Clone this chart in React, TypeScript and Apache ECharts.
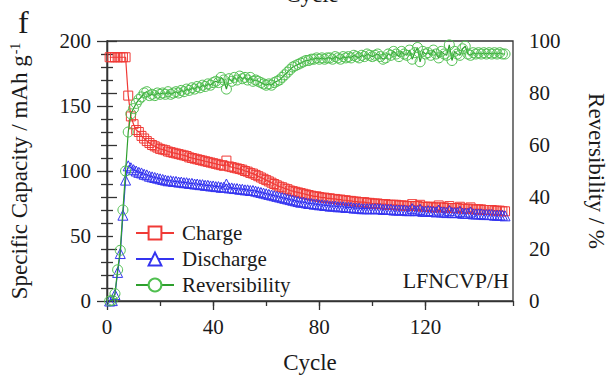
import { useEffect, useRef } from "react";
import * as echarts from "echarts";

// Specific capacity per cycle (mAh g-1), cycles 1..150
const chargeCapacity = [
  187.5, 187.5, 187.5, 187.5, 187.5, 187.5, 187.5, 158, 142, 136,
  131.5, 130, 127, 125, 123, 121.5, 120, 119, 118, 117,
  116.5, 116, 115, 114.5, 114, 113.5, 113, 112.5, 112, 111.5,
  110.5, 110, 109.5, 109, 108.5, 108, 107.5, 107, 106.5, 106,
  105.5, 105, 104.5, 104, 108, 103.5, 103, 102.5, 102, 101.5,
  101, 100, 99.5, 98.5, 98, 97, 96, 95, 94, 93,
  92, 91, 90, 89, 88, 87.5, 86.5, 86, 85, 84.5,
  84, 83.5, 83, 82.5, 82, 81.5, 81, 80.5, 80.5, 80,
  79.5, 79.5, 79, 79, 78.5, 78.5, 78, 78, 77.5, 77.5,
  77, 77, 76.5, 76.5, 76, 76, 76, 75.5, 75.5, 75,
  75, 75, 74.5, 74.5, 74.5, 74, 74, 74, 74, 73.5,
  73.5, 73.5, 73, 73, 74.5, 73, 73, 74, 72.5, 72.5,
  72.5, 72.5, 72, 72, 73.5, 72, 72, 71.5, 73, 71.5,
  71.5, 71.5, 72.5, 71, 71, 71, 72, 70.5, 70.5, 70.5,
  70.5, 70, 70, 70, 70, 69.5, 69.5, 69.5, 69, 69,
];

const dischargeCapacity = [
  0, 0.3, 5, 22, 36.5, 66, 93, 104, 102.5, 101,
  100, 99, 98.5, 97.5, 97, 96, 95.5, 95, 94.5, 94,
  93.5, 93, 92.5, 92.5, 92, 92, 91.5, 91.5, 91, 91,
  90.5, 90.5, 90, 90, 89.5, 89.5, 89, 89, 88.5, 88.5,
  88, 88, 87.5, 87.5, 90, 87, 87, 86.5, 86.5, 86,
  86, 85.5, 85.5, 85, 85, 84.5, 84, 83.5, 83, 82.5,
  82, 81.5, 81, 80.5, 80, 79.5, 79, 78.5, 78, 77.5,
  77, 76.5, 76, 76, 75.5, 75, 75, 74.5, 74.5, 74,
  74, 73.5, 73.5, 73, 73, 73, 72.5, 72.5, 72.5, 72,
  72, 72, 71.5, 71.5, 71.5, 71, 71, 71, 71, 71,
  71, 71, 71, 70.5, 70.5, 70.5, 70.5, 70, 70, 70,
  70, 70, 69.5, 69.5, 71, 69.5, 69.5, 70.5, 69, 69,
  69.5, 69, 69, 68.5, 70, 68.5, 68.5, 68, 69.5, 68,
  68, 68, 69, 67.5, 67.5, 67.5, 68.5, 67, 67, 67,
  67, 66.5, 66.5, 66.5, 66.5, 66, 66, 66, 66, 65.5,
];

// Coulombic reversibility per cycle (%)
const reversibility = [
  0, 0.3, 2.8, 12, 19.5, 35, 50, 65, 72, 74,
  76, 77.5, 78.5, 80, 80.5, 79, 79.5, 79, 80, 79.5,
  80, 79.5, 80.5, 79.5, 80, 80.5, 80, 81, 80.5, 81.5,
  81, 82, 81.5, 82.5, 82, 83, 82.5, 83.5, 83, 84,
  84.5, 84, 86, 85, 81.5, 85.5, 84.5, 86, 85, 86.5,
  85.5, 86, 85, 86, 84.5, 85, 84.5, 84, 83.5, 83,
  83.5, 83, 84, 84.5, 85, 86, 87, 88, 89, 90,
  90.5, 91, 91.5, 92, 92.5, 92.5, 93, 93, 93.5, 93,
  93.5, 93, 93.5, 93.5, 93, 94, 93.5, 93, 94, 93.5,
  94, 93.5, 94.5, 94, 93.5, 94.5, 94, 95, 94.5, 94,
  94.5, 95, 94, 93, 93.5, 95, 94.5, 96, 95, 94,
  96, 95, 94.5, 96.5, 93, 95.5, 97.5, 92, 96, 95,
  95.5, 94.5, 96.5, 95, 93.5, 96, 95, 94.5, 98.5, 92.5,
  96, 95, 94.5, 97, 98, 95, 94.5, 95.5, 95, 95.5,
  95, 95.5, 95, 95.5, 95, 95.5, 95, 95.5, 95, 95,
];

const cycleNumbers = chargeCapacity.map((_, i) => i + 1);

const seriesNames = ["Charge", "Discharge", "Reversibility"];
const capacityTicks = { min: 0, max: 200, interval: 50 };
const reversibilityTicks = { min: 0, max: 100, interval: 20 };
const cycleTicks = { min: 0, max: 153, interval: 40, minorInterval: 20 };

const FONT = "'Liberation Serif', 'Times New Roman', serif";
const INK = "#1a1a1a";
const AXIS = "#333";
const RED = "#f03a36";
const BLUE = "#3434f0";
const GREEN = "#2d9f2d";
const GREEN_MARK = "#4fbf4f";

export default function App() {
  const ref = useRef<HTMLDivElement>(null);

  useEffect(() => {
    const chart = echarts.init(ref.current!, null, { renderer: "svg" });
    const toPairs = (vals: number[]) => vals.map((v, i) => [cycleNumbers[i], v]);

    const axisLine = { show: true, lineStyle: { color: AXIS, width: 1.3 } };
    const tickLine = { color: AXIS, width: 1.3 };
    const labelStyle = { fontSize: 21, color: INK, fontFamily: FONT };

    chart.setOption({
      animation: false,
      backgroundColor: "#fff",
      grid: {
        left: 105,
        right: 96,
        top: 41,
        bottom: 79,
        show: true,
        borderColor: AXIS,
        borderWidth: 1.3,
        backgroundColor: "transparent",
      },
      graphic: [
        {
          type: "text",
          left: 18,
          top: 6,
          style: { text: "f", fontSize: 32, fontFamily: FONT, fill: INK },
        },
        {
          type: "text",
          x: 312,
          y: 6,
          style: {
            text: "Cycle",
            fontSize: 23,
            fontFamily: FONT,
            fill: INK,
            align: "center",
            verticalAlign: "bottom",
          },
        },
        {
          type: "text",
          x: 509,
          y: 291,
          style: {
            text: "LFNCVP/H",
            fontSize: 22,
            fontFamily: FONT,
            fill: INK,
            align: "right",
            verticalAlign: "bottom",
          },
        },
      ],
      legend: {
        orient: "vertical",
        left: 131,
        top: 219,
        padding: [3, 10, 3, 4],
        itemGap: 4,
        itemWidth: 38,
        itemHeight: 16,
        backgroundColor: "#fff",
        textStyle: { fontSize: 21, lineHeight: 22, color: INK, fontFamily: FONT, padding: [0, 0, 0, 3] },
        itemStyle: { color: "#fff" },
        data: seriesNames,
      },
      xAxis: [
        {
          type: "value",
          min: cycleTicks.min,
          max: cycleTicks.max,
          interval: cycleTicks.interval,
          position: "bottom",
          axisLine,
          axisTick: { show: true, length: 9, lineStyle: tickLine },
          axisLabel: {
            ...labelStyle,
            margin: 15,
            showMaxLabel: false,
            formatter: (v: number) => (v % cycleTicks.interval === 0 ? String(v) : ""),
          },
          splitLine: { show: false },
          name: "Cycle",
          nameLocation: "middle",
          nameGap: 50,
          nameTextStyle: { fontSize: 23, color: INK, fontFamily: FONT },
        },
        {
          type: "value",
          min: cycleTicks.min,
          max: cycleTicks.max,
          interval: cycleTicks.minorInterval,
          position: "bottom",
          axisLine: { show: false },
          axisTick: { show: true, length: 5, lineStyle: tickLine },
          axisLabel: { show: false },
          splitLine: { show: false },
        },
      ],
      yAxis: [
        {
          type: "value",
          ...capacityTicks,
          position: "left",
          axisLine,
          axisTick: { show: true, length: 10, lineStyle: tickLine },
          minorTick: { show: true, splitNumber: 5, length: 6, lineStyle: tickLine },
          axisLabel: { ...labelStyle, margin: 16 },
          splitLine: { show: false },
          minorSplitLine: { show: false },
          name: "Specific Capacity / mAh g{sup|-1}",
          nameLocation: "middle",
          nameRotate: 90,
          nameGap: 76,
          nameTextStyle: {
            fontSize: 23,
            color: INK,
            fontFamily: FONT,
            rich: {
              sup: { fontSize: 14, fontFamily: FONT, color: INK, verticalAlign: "top", padding: [0, 0, 8, 1] },
            },
          },
        },
        {
          type: "value",
          ...reversibilityTicks,
          position: "right",
          axisLine,
          axisTick: { show: true, length: 10, lineStyle: tickLine },
          minorTick: { show: true, splitNumber: 4, length: 6, lineStyle: tickLine },
          axisLabel: { ...labelStyle, margin: 16 },
          splitLine: { show: false },
          minorSplitLine: { show: false },
          name: "Reversibility / %",
          nameLocation: "middle",
          nameRotate: -90,
          nameGap: 72,
          nameTextStyle: { fontSize: 23, color: INK, fontFamily: FONT },
        },
      ],
      series: [
        {
          name: seriesNames[0],
          type: "line",
          xAxisIndex: 0,
          yAxisIndex: 0,
          data: toPairs(chargeCapacity),
          symbol: "rect",
          symbolSize: 9,
          showAllSymbol: true,
          lineStyle: { color: RED, width: 1.2 },
          itemStyle: { color: "rgba(255,255,255,0)", borderColor: RED, borderWidth: 1 },
          z: 3,
        },
        {
          name: seriesNames[1],
          type: "line",
          xAxisIndex: 0,
          yAxisIndex: 0,
          data: toPairs(dischargeCapacity),
          symbol: "triangle",
          symbolSize: 10,
          showAllSymbol: true,
          lineStyle: { color: BLUE, width: 1.2 },
          itemStyle: { color: "rgba(255,255,255,0)", borderColor: BLUE, borderWidth: 1 },
          z: 3,
        },
        {
          name: seriesNames[2],
          type: "line",
          xAxisIndex: 0,
          yAxisIndex: 1,
          data: toPairs(reversibility),
          symbol: "circle",
          symbolSize: 10,
          showAllSymbol: true,
          lineStyle: { color: GREEN, width: 1.2 },
          itemStyle: { color: "rgba(255,255,255,0)", borderColor: GREEN_MARK, borderWidth: 1 },
          z: 4,
        },
      ],
    });

    return () => chart.dispose();
  }, []);

  return (
    <div
      ref={ref}
      style={{ position: "fixed", left: 0, top: 0, width: 616, height: 380 }}
    />
  );
}
